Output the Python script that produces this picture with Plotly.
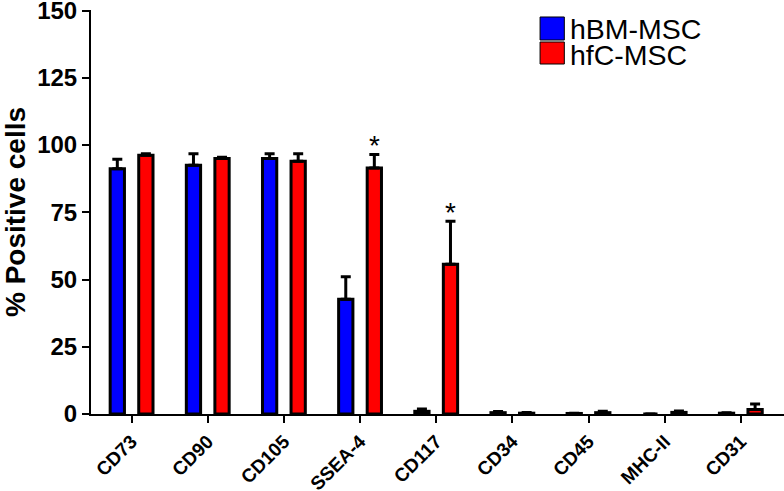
import plotly.graph_objects as go

markers = ["CD73", "CD90", "CD105", "SSEA-4", "CD117", "CD34", "CD45", "MHC-II", "CD31"]
hbm_vals = [91.2, 92.5, 95.0, 42.7, 1.0, 0.5, 0.2, 0.0, 0.3]
hbm_err = [3.5, 4.3, 1.8, 8.3, 0.9, 0.4, 0.1, 0.0, 0.2]
hfc_vals = [96.2, 95.0, 94.0, 91.5, 55.7, 0.3, 0.5, 0.6, 1.7]
hfc_err = [0.6, 0.5, 2.8, 5.0, 16.0, 0.3, 0.5, 0.5, 2.0]
significant = ["SSEA-4", "CD117"]
y_ticks = [0, 25, 50, 75, 100, 125, 150]

FONT = "Liberation Sans, Arial, sans-serif"

def bar(name, vals, errs, color):
    return go.Bar(
        name=name, x=markers, y=vals,
        marker=dict(color=color, line=dict(color="black", width=3)),
        error_y=dict(type="data", symmetric=False, array=errs,
                     arrayminus=[0] * len(errs), color="black",
                     thickness=3, width=5),
        showlegend=False,
    )

fig = go.Figure([bar("hBM-MSC", hbm_vals, hbm_err, "#0000FF"),
                 bar("hfC-MSC", hfc_vals, hfc_err, "#FF0000")])

# significance asterisks above hfC-MSC bars
for m in significant:
    i = markers.index(m)
    fig.add_annotation(x=i, y=hfc_vals[i] + hfc_err[i], xref="x", yref="y",
                       text="*", showarrow=False, xshift=14, yshift=-9,
                       yanchor="bottom",
                       font=dict(family=FONT, size=28, color="black"))

# custom legend (large swatches)
legend_items = [("hBM-MSC", "#0000FF", 0.9827, 0.9257, 0.953),
                ("hfC-MSC", "#FF0000", 0.9208, 0.8663, 0.8886)]
for name, color, y1, y0, ty in legend_items:
    fig.add_shape(type="rect", xref="paper", yref="paper",
                  x0=0.648, x1=0.683, y0=y0, y1=y1,
                  fillcolor=color, line=dict(color="black", width=1))
    fig.add_annotation(xref="paper", yref="paper", x=0.689, y=ty,
                       text=name, showarrow=False, xanchor="left", yanchor="middle",
                       height=22, valign="middle",
                       font=dict(family=FONT, size=28.5, color="black"))

fig.update_layout(
    width=784, height=491,
    margin=dict(l=91, r=0, t=10, b=77),
    plot_bgcolor="white", paper_bgcolor="white",
    barmode="group", bargap=0.25, bargroupgap=0.5,
    font=dict(family=FONT, color="black"),
    xaxis=dict(
        range=[-0.533, 8.567], automargin=False,
        showline=True, linecolor="black", linewidth=2,
        ticks="outside", ticklen=7, tickwidth=2, tickcolor="black",
        tickangle=-45, showgrid=False, zeroline=False,
        ticklabeloverflow="allow",
        tickfont=dict(family=FONT, size=19, color="black", weight="bold"),
    ),
    yaxis=dict(
        range=[0, 150.2], tickvals=y_ticks, automargin=False,
        showline=True, linecolor="black", linewidth=2,
        ticks="outside", ticklen=7, tickwidth=2, tickcolor="black",
        showgrid=False, zeroline=False,
        ticklabeloverflow="allow",
        tickfont=dict(family=FONT, size=24, color="black", weight="bold"),
        title=dict(text="% Positive cells", standoff=8,
                   font=dict(family=FONT, size=28, color="black", weight="bold")),
    ),
)

fig.write_html("out.html", config={"displayModeBar": False},
               post_script="document.body.style.margin='0';")
